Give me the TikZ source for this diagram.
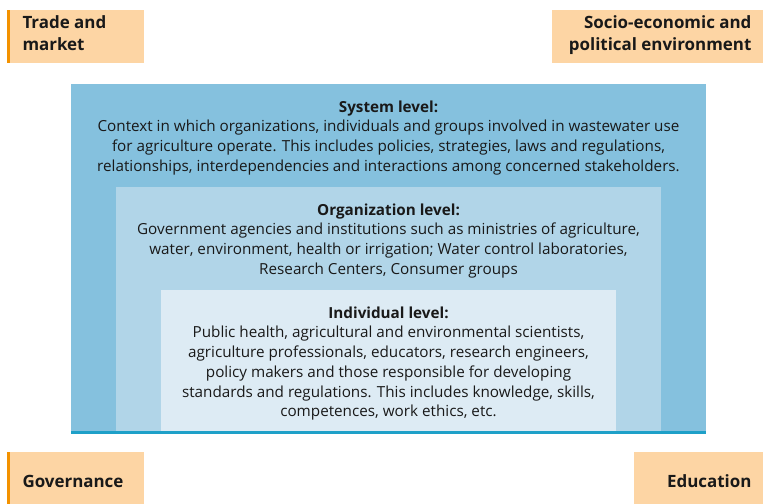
\documentclass[tikz,border=0pt]{standalone}
\usepackage{fontspec}
\setmainfont{Open Sans}
\usepackage{tikz}

\tikzset{
  leveltext/.style={align=center, text=black!90, font=\fontsize{15.3}{19.8}\selectfont},
  cornertext/.style={font=\bfseries\fontsize{17}{22}\selectfont, text=black!90}
}

\begin{document}
\begin{tikzpicture}[x=1bp,y=-1bp]
	\definecolor{boxorange}{RGB}{253,213,164}
	\definecolor{barorange}{RGB}{243,146,0}
	\definecolor{systemblue}{RGB}{133,193,222}
	\definecolor{orgblue}{RGB}{177,213,232}
	\definecolor{indblue}{RGB}{221,235,244}
	\definecolor{lineblue}{RGB}{30,160,200}

	\useasboundingbox (0,0) rectangle (763,504);

	% corner boxes
	\fill[boxorange] (7,10) rectangle (144,63);
	\fill[barorange] (7,10) rectangle (10,63);
	\fill[boxorange] (552,10) rectangle (763,63);
	\fill[boxorange] (7,452) rectangle (144,504);
	\fill[barorange] (7,452) rectangle (10,504);
	\fill[boxorange] (634,452) rectangle (763,504);

	% nested levels
	\fill[systemblue] (71,84) rectangle (706,432);
	\fill[orgblue] (116,187) rectangle (661,432);
	\fill[indblue] (161,290) rectangle (616,432);
	\fill[lineblue] (71,431) rectangle (706,434);

	\node[cornertext, align=left, anchor=north west] (trade) at (19,12) {Trade and\\market};
	\node[cornertext, align=right, anchor=north east] (socio) at (755,12) {Socio-economic and\\political environment};
	\node[cornertext, anchor=west] (gov) at (19,481) {Governance};
	\node[cornertext, anchor=east] (edu) at (755,481) {Education};

	\node[leveltext, anchor=north] (system) at (388.5,97) {\textbf{System level:}\\
		Context in which organizations, individuals and groups involved in wastewater use\\
		for agriculture operate. This includes policies, strategies, laws and regulations,\\
		relationships, interdependencies and interactions among concerned stakeholders.};
	\node[leveltext, anchor=north] (org) at (388.5,200) {\textbf{Organization level:}\\
		Government agencies and institutions such as ministries of agriculture,\\
		water, environment, health or irrigation; Water control laboratories,\\
		Research Centers, Consumer groups};
	\node[leveltext, anchor=north] (indiv) at (388.5,303) {\textbf{Individual level:}\\
		Public health, agricultural and environmental scientists,\\
		agriculture professionals, educators, research engineers,\\
		policy makers and those responsible for developing\\
		standards and regulations. This includes knowledge, skills,\\
		competences, work ethics, etc.};
\end{tikzpicture}
\end{document}
